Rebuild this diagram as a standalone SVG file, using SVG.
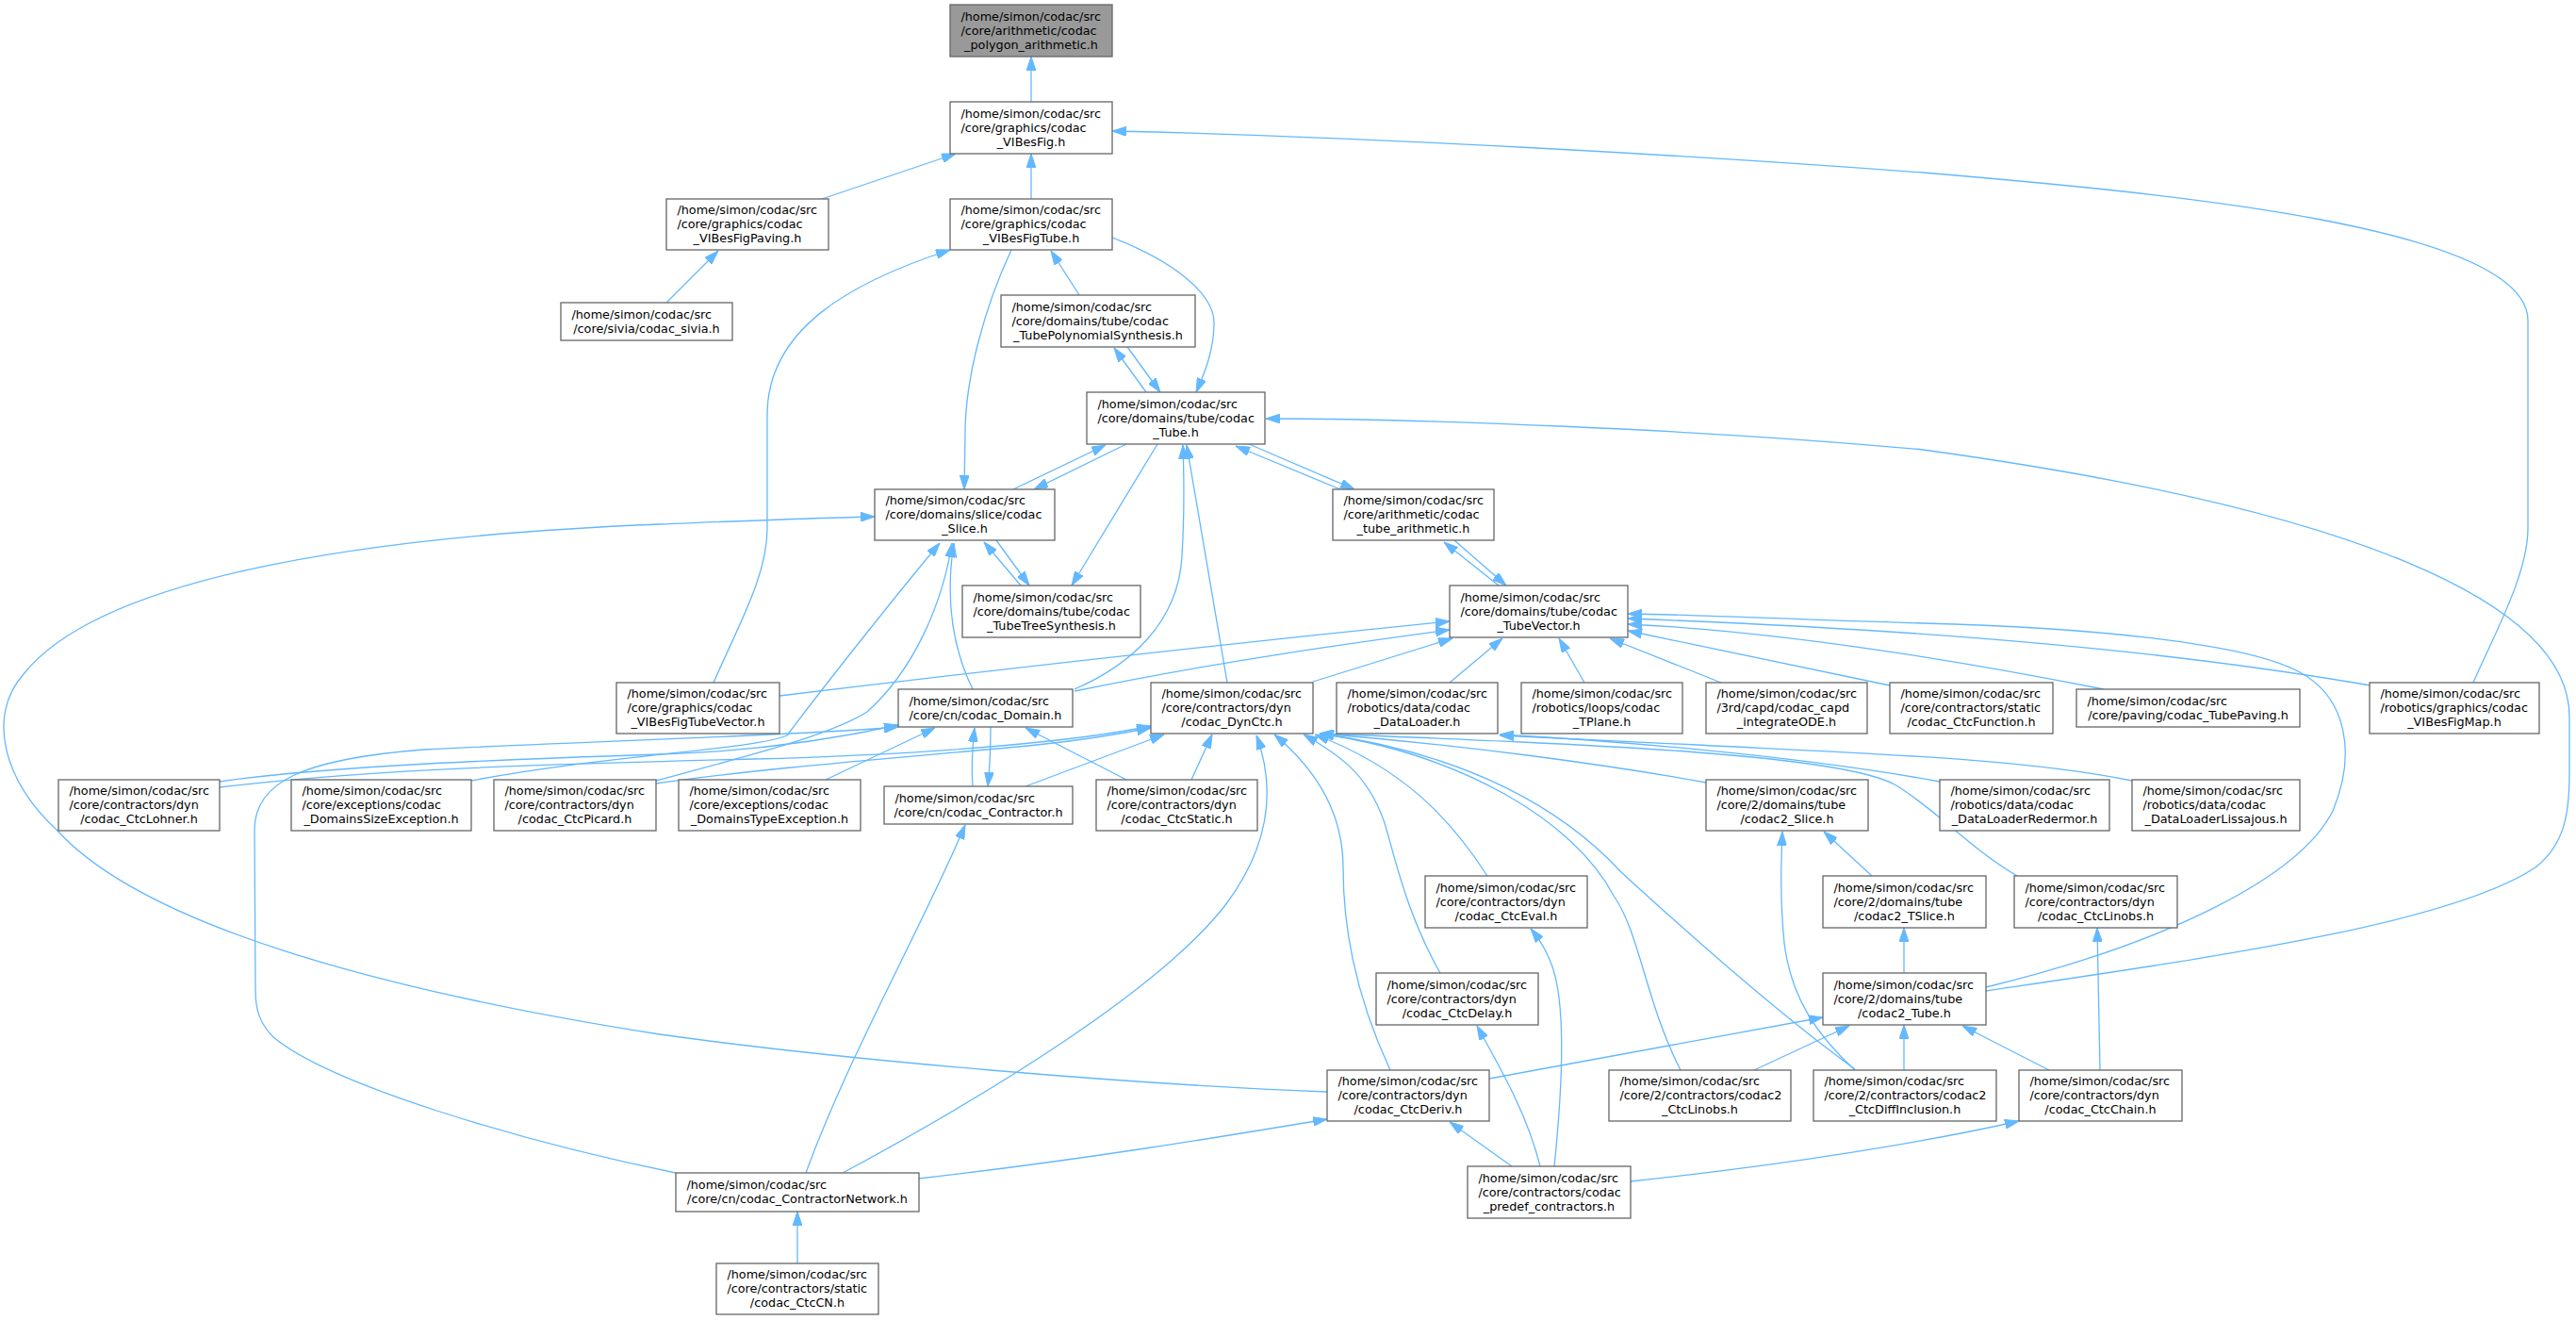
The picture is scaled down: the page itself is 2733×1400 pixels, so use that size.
<svg xmlns="http://www.w3.org/2000/svg" width="2733" height="1400" viewBox="0 0 2733 1400">
<style>
.n rect{fill:#fff;stroke:#666;stroke-width:1.3}
.root rect{fill:#999}
text{font-family:"DejaVu Sans","Liberation Sans",sans-serif;font-size:12.8px;fill:#000}
.c{text-anchor:middle}
#edges path{fill:none;stroke:#63b8ff;stroke-width:1.3;marker-end:url(#ah)}
</style>
<defs>
<marker id="ah" viewBox="0 0 15 10" refX="15" refY="5" markerWidth="15" markerHeight="10" markerUnits="userSpaceOnUse" orient="auto">
<path d="M0,0 L15,5 L0,10 z" fill="#63b8ff" stroke="#63b8ff" stroke-width="1"/>
</marker>
</defs>
<rect width="2733" height="1400" fill="#fff"/>
<g id="edges">
<path d="M1094,108 L1094,60"/>
<path d="M872,211 L1014,163"/>
<path d="M1094,211 L1094,163"/>
<path d="M2624,724 C2645,675 2682,610 2682,560 L2682,340 C2682,240 2300,205 2040,183 C1800,165 1450,145 1180,139"/>
<path d="M707,321 L762,266"/>
<path d="M757,724 C785,660 814,610 814,560 L814,440 C814,350 900,300 1008,265"/>
<path d="M1073,265 C1045,325 1024,400 1024,460 L1023,519"/>
<path d="M1145,313 L1115,266"/>
<path d="M1180,252 C1240,275 1290,310 1288,345 C1287,375 1278,395 1269,416"/>
<path d="M1216,416 L1182,369"/>
<path d="M1196,368 L1231,416"/>
<path d="M1075,519 L1173,472"/>
<path d="M1195,471 L1097,519"/>
<path d="M1228,471 L1137,621"/>
<path d="M1140,731 C1200,705 1250,660 1254,590 C1257,540 1256,500 1255,472"/>
<path d="M1302,724 L1259,472"/>
<path d="M1422,519 L1311,473"/>
<path d="M1325,471 L1437,519"/>
<path d="M2107,1051 C2350,1015 2600,980 2690,920 C2722,895 2726,860 2726,820 L2726,760 C2726,640 2500,540 2040,477 C1800,455 1500,444 1343,444"/>
<path d="M1083,621 L1044,575"/>
<path d="M1057,573 L1092,621"/>
<path d="M1408,1158 C1200,1150 900,1125 700,1097 C400,1050 150,980 60,880 C5,830 -15,760 25,715 C100,620 350,570 700,556 C800,552 870,549 928,548"/>
<path d="M1032,731 C1012,690 1002,640 1012,576"/>
<path d="M696,828 C800,800 880,780 920,755 C970,710 1000,640 1010,576"/>
<path d="M500,828 C650,800 800,795 835,780 C880,720 960,620 997,576"/>
<path d="M233,829 C350,812 550,805 700,800 C800,797 880,785 953,769"/>
<path d="M233,835 C400,815 600,810 800,805 C1000,800 1150,785 1221,770"/>
<path d="M717,1244 C550,1210 350,1150 290,1100 C275,1085 271,1070 271,1050 L270,880 C270,830 320,805 450,795 C650,785 850,780 953,771"/>
<path d="M696,831 C800,815 1000,800 1100,790 C1150,785 1190,778 1221,772"/>
<path d="M876,827 L992,772"/>
<path d="M1032,834 C1030,810 1032,790 1034,772"/>
<path d="M1051,771 C1051,795 1050,815 1048,834"/>
<path d="M1195,827 L1088,772"/>
<path d="M1088,834 L1235,779"/>
<path d="M1264,827 L1286,779"/>
<path d="M855,1244 C900,1120 980,980 1024,875"/>
<path d="M894,1244 C1050,1160 1230,1050 1300,960 C1345,900 1355,840 1333,780"/>
<path d="M975,1250 C1150,1230 1300,1205 1408,1187"/>
<path d="M846,1340 L846,1285"/>
<path d="M827,738 C1100,705 1350,678 1538,659"/>
<path d="M1140,733 C1300,700 1450,680 1538,668"/>
<path d="M1393,723 L1541,677"/>
<path d="M1538,724 L1594,677"/>
<path d="M1681,724 L1654,677"/>
<path d="M1826,724 L1708,677"/>
<path d="M2005,727 L1727,669"/>
<path d="M2232,731 C2100,705 1900,670 1727,662"/>
<path d="M2515,727 C2300,690 2050,668 1727,656"/>
<path d="M2107,1047 C2300,1000 2440,930 2475,860 C2500,800 2490,740 2440,713 C2380,680 2200,665 2040,661 C1900,657 1800,652 1727,651"/>
<path d="M1590,621 L1532,575"/>
<path d="M1543,573 L1598,621"/>
<path d="M2058,829 C1900,800 1700,785 1591,779"/>
<path d="M2262,828 C2150,805 2000,800 1800,790 C1700,785 1640,782 1591,780"/>
<path d="M1475,1135 C1440,1060 1425,990 1425,920 C1425,860 1395,815 1352,779"/>
<path d="M1528,1032 C1490,965 1478,900 1468,870 C1450,820 1420,800 1383,779"/>
<path d="M1578,929 C1540,870 1490,815 1395,779"/>
<path d="M1783,1135 C1745,1060 1740,990 1712,950 C1670,870 1550,800 1400,778"/>
<path d="M1968,1134 C1880,1070 1780,980 1720,925 C1660,860 1560,800 1400,778"/>
<path d="M1810,830 C1700,810 1550,790 1400,778"/>
<path d="M2140,929 C2090,900 2050,855 2010,832 C1950,800 1700,790 1400,778"/>
<path d="M1986,929 L1935,882"/>
<path d="M1968,1135 C1930,1100 1900,1060 1893,1000 C1888,950 1890,910 1891,882"/>
<path d="M2020,1032 L2020,984"/>
<path d="M1580,1144 L1934,1079"/>
<path d="M1861,1135 L1962,1088"/>
<path d="M2020,1135 L2020,1087"/>
<path d="M2174,1135 L2082,1088"/>
<path d="M2228,1135 L2225,984"/>
<path d="M1730,1253 C1900,1235 2050,1210 2142,1189"/>
<path d="M1604,1237 L1538,1190"/>
<path d="M1634,1237 C1620,1180 1590,1130 1567,1088"/>
<path d="M1649,1237 C1658,1150 1662,1060 1645,1020 C1638,1003 1632,995 1624,985"/>
</g>
<g id="n1" class="n root"><rect x="1008" y="5" width="172" height="55"/><text x="1019.4" y="21.5">/home/simon/codac/src</text><text x="1019.4" y="36.5">/core/arithmetic/codac</text><text class="c" x="1094" y="51.5">_polygon_arithmetic.h</text></g>
<g id="n2" class="n"><rect x="1008" y="108" width="172" height="55"/><text x="1019.4" y="124.5">/home/simon/codac/src</text><text x="1019.4" y="139.5">/core/graphics/codac</text><text class="c" x="1094" y="154.5">_VIBesFig.h</text></g>
<g id="n3" class="n"><rect x="707" y="211" width="172" height="54"/><text x="718.4" y="227">/home/simon/codac/src</text><text x="718.4" y="242">/core/graphics/codac</text><text class="c" x="793" y="257">_VIBesFigPaving.h</text></g>
<g id="n4" class="n"><rect x="1008" y="211" width="172" height="54"/><text x="1019.4" y="227">/home/simon/codac/src</text><text x="1019.4" y="242">/core/graphics/codac</text><text class="c" x="1094" y="257">_VIBesFigTube.h</text></g>
<g id="n5" class="n"><rect x="595" y="321" width="182" height="40"/><text x="606.4" y="337.5">/home/simon/codac/src</text><text class="c" x="686" y="352.5">/core/sivia/codac_sivia.h</text></g>
<g id="n6" class="n"><rect x="1062" y="313" width="206" height="55"/><text x="1073.4" y="329.5">/home/simon/codac/src</text><text x="1073.4" y="344.5">/core/domains/tube/codac</text><text class="c" x="1165" y="359.5">_TubePolynomialSynthesis.h</text></g>
<g id="n7" class="n"><rect x="1153" y="416" width="189" height="55"/><text x="1164.4" y="432.5">/home/simon/codac/src</text><text x="1164.4" y="447.5">/core/domains/tube/codac</text><text class="c" x="1247.5" y="462.5">_Tube.h</text></g>
<g id="n8" class="n"><rect x="928" y="519" width="191" height="54"/><text x="939.4" y="535">/home/simon/codac/src</text><text x="939.4" y="550">/core/domains/slice/codac</text><text class="c" x="1023.5" y="565">_Slice.h</text></g>
<g id="n9" class="n"><rect x="1414" y="519" width="171" height="54"/><text x="1425.4" y="535">/home/simon/codac/src</text><text x="1425.4" y="550">/core/arithmetic/codac</text><text class="c" x="1499.5" y="565">_tube_arithmetic.h</text></g>
<g id="n10" class="n"><rect x="1021" y="621" width="189" height="55"/><text x="1032.4" y="637.5">/home/simon/codac/src</text><text x="1032.4" y="652.5">/core/domains/tube/codac</text><text class="c" x="1115.5" y="667.5">_TubeTreeSynthesis.h</text></g>
<g id="n11" class="n"><rect x="1538" y="621" width="189" height="55"/><text x="1549.4" y="637.5">/home/simon/codac/src</text><text x="1549.4" y="652.5">/core/domains/tube/codac</text><text class="c" x="1632.5" y="667.5">_TubeVector.h</text></g>
<g id="n12" class="n"><rect x="654" y="724" width="173" height="54"/><text x="665.4" y="740">/home/simon/codac/src</text><text x="665.4" y="755">/core/graphics/codac</text><text class="c" x="740.5" y="770">_VIBesFigTubeVector.h</text></g>
<g id="n13" class="n"><rect x="953" y="731" width="185" height="40"/><text x="964.4" y="747.5">/home/simon/codac/src</text><text class="c" x="1045.5" y="762.5">/core/cn/codac_Domain.h</text></g>
<g id="n14" class="n"><rect x="1221" y="724" width="172" height="54"/><text x="1232.4" y="740">/home/simon/codac/src</text><text x="1232.4" y="755">/core/contractors/dyn</text><text class="c" x="1307" y="770">/codac_DynCtc.h</text></g>
<g id="n15" class="n"><rect x="1418" y="724" width="171" height="54"/><text x="1429.4" y="740">/home/simon/codac/src</text><text x="1429.4" y="755">/robotics/data/codac</text><text class="c" x="1503.5" y="770">_DataLoader.h</text></g>
<g id="n16" class="n"><rect x="1614" y="724" width="171" height="54"/><text x="1625.4" y="740">/home/simon/codac/src</text><text x="1625.4" y="755">/robotics/loops/codac</text><text class="c" x="1699.5" y="770">_TPlane.h</text></g>
<g id="n17" class="n"><rect x="1810" y="724" width="171" height="54"/><text x="1821.4" y="740">/home/simon/codac/src</text><text x="1821.4" y="755">/3rd/capd/codac_capd</text><text class="c" x="1895.5" y="770">_integrateODE.h</text></g>
<g id="n18" class="n"><rect x="2005" y="724" width="173" height="54"/><text x="2016.4" y="740">/home/simon/codac/src</text><text x="2016.4" y="755">/core/contractors/static</text><text class="c" x="2091.5" y="770">/codac_CtcFunction.h</text></g>
<g id="n19" class="n"><rect x="2203" y="731" width="237" height="40"/><text x="2214.4" y="747.5">/home/simon/codac/src</text><text class="c" x="2321.5" y="762.5">/core/paving/codac_TubePaving.h</text></g>
<g id="n20" class="n"><rect x="2514" y="724" width="180" height="54"/><text x="2525.4" y="740">/home/simon/codac/src</text><text x="2525.4" y="755">/robotics/graphics/codac</text><text class="c" x="2604" y="770">_VIBesFigMap.h</text></g>
<g id="n21" class="n"><rect x="62" y="827" width="171" height="54"/><text x="73.4" y="843">/home/simon/codac/src</text><text x="73.4" y="858">/core/contractors/dyn</text><text class="c" x="147.5" y="873">/codac_CtcLohner.h</text></g>
<g id="n22" class="n"><rect x="309" y="827" width="191" height="54"/><text x="320.4" y="843">/home/simon/codac/src</text><text x="320.4" y="858">/core/exceptions/codac</text><text class="c" x="404.5" y="873">_DomainsSizeException.h</text></g>
<g id="n23" class="n"><rect x="524" y="827" width="172" height="54"/><text x="535.4" y="843">/home/simon/codac/src</text><text x="535.4" y="858">/core/contractors/dyn</text><text class="c" x="610" y="873">/codac_CtcPicard.h</text></g>
<g id="n24" class="n"><rect x="720" y="827" width="193" height="54"/><text x="731.4" y="843">/home/simon/codac/src</text><text x="731.4" y="858">/core/exceptions/codac</text><text class="c" x="816.5" y="873">_DomainsTypeException.h</text></g>
<g id="n25" class="n"><rect x="938" y="834" width="200" height="40"/><text x="949.4" y="850.5">/home/simon/codac/src</text><text class="c" x="1038" y="865.5">/core/cn/codac_Contractor.h</text></g>
<g id="n26" class="n"><rect x="1163" y="827" width="171" height="54"/><text x="1174.4" y="843">/home/simon/codac/src</text><text x="1174.4" y="858">/core/contractors/dyn</text><text class="c" x="1248.5" y="873">/codac_CtcStatic.h</text></g>
<g id="n27" class="n"><rect x="1810" y="827" width="172" height="54"/><text x="1821.4" y="843">/home/simon/codac/src</text><text x="1821.4" y="858">/core/2/domains/tube</text><text class="c" x="1896" y="873">/codac2_Slice.h</text></g>
<g id="n28" class="n"><rect x="2058" y="827" width="180" height="54"/><text x="2069.4" y="843">/home/simon/codac/src</text><text x="2069.4" y="858">/robotics/data/codac</text><text class="c" x="2148" y="873">_DataLoaderRedermor.h</text></g>
<g id="n29" class="n"><rect x="2262" y="827" width="178" height="54"/><text x="2273.4" y="843">/home/simon/codac/src</text><text x="2273.4" y="858">/robotics/data/codac</text><text class="c" x="2351" y="873">_DataLoaderLissajous.h</text></g>
<g id="n30" class="n"><rect x="1512" y="929" width="172" height="55"/><text x="1523.4" y="945.5">/home/simon/codac/src</text><text x="1523.4" y="960.5">/core/contractors/dyn</text><text class="c" x="1598" y="975.5">/codac_CtcEval.h</text></g>
<g id="n31" class="n"><rect x="1934" y="929" width="173" height="55"/><text x="1945.4" y="945.5">/home/simon/codac/src</text><text x="1945.4" y="960.5">/core/2/domains/tube</text><text class="c" x="2020.5" y="975.5">/codac2_TSlice.h</text></g>
<g id="n32" class="n"><rect x="2137" y="929" width="173" height="55"/><text x="2148.4" y="945.5">/home/simon/codac/src</text><text x="2148.4" y="960.5">/core/contractors/dyn</text><text class="c" x="2223.5" y="975.5">/codac_CtcLinobs.h</text></g>
<g id="n33" class="n"><rect x="1460" y="1032" width="172" height="55"/><text x="1471.4" y="1048.5">/home/simon/codac/src</text><text x="1471.4" y="1063.5">/core/contractors/dyn</text><text class="c" x="1546" y="1078.5">/codac_CtcDelay.h</text></g>
<g id="n34" class="n"><rect x="1934" y="1032" width="173" height="55"/><text x="1945.4" y="1048.5">/home/simon/codac/src</text><text x="1945.4" y="1063.5">/core/2/domains/tube</text><text class="c" x="2020.5" y="1078.5">/codac2_Tube.h</text></g>
<g id="n35" class="n"><rect x="1408" y="1135" width="172" height="54"/><text x="1419.4" y="1151">/home/simon/codac/src</text><text x="1419.4" y="1166">/core/contractors/dyn</text><text class="c" x="1494" y="1181">/codac_CtcDeriv.h</text></g>
<g id="n36" class="n"><rect x="1707" y="1135" width="193" height="54"/><text x="1718.4" y="1151">/home/simon/codac/src</text><text x="1718.4" y="1166">/core/2/contractors/codac2</text><text class="c" x="1803.5" y="1181">_CtcLinobs.h</text></g>
<g id="n37" class="n"><rect x="1924" y="1135" width="194" height="54"/><text x="1935.4" y="1151">/home/simon/codac/src</text><text x="1935.4" y="1166">/core/2/contractors/codac2</text><text class="c" x="2021" y="1181">_CtcDiffInclusion.h</text></g>
<g id="n38" class="n"><rect x="2142" y="1135" width="173" height="54"/><text x="2153.4" y="1151">/home/simon/codac/src</text><text x="2153.4" y="1166">/core/contractors/dyn</text><text class="c" x="2228.5" y="1181">/codac_CtcChain.h</text></g>
<g id="n39" class="n"><rect x="717" y="1244" width="258" height="41"/><text x="728.4" y="1261">/home/simon/codac/src</text><text class="c" x="846" y="1276">/core/cn/codac_ContractorNetwork.h</text></g>
<g id="n40" class="n"><rect x="1557" y="1237" width="173" height="55"/><text x="1568.4" y="1253.5">/home/simon/codac/src</text><text x="1568.4" y="1268.5">/core/contractors/codac</text><text class="c" x="1643.5" y="1283.5">_predef_contractors.h</text></g>
<g id="n41" class="n"><rect x="760" y="1340" width="172" height="54"/><text x="771.4" y="1356">/home/simon/codac/src</text><text x="771.4" y="1371">/core/contractors/static</text><text class="c" x="846" y="1386">/codac_CtcCN.h</text></g>
</svg>
